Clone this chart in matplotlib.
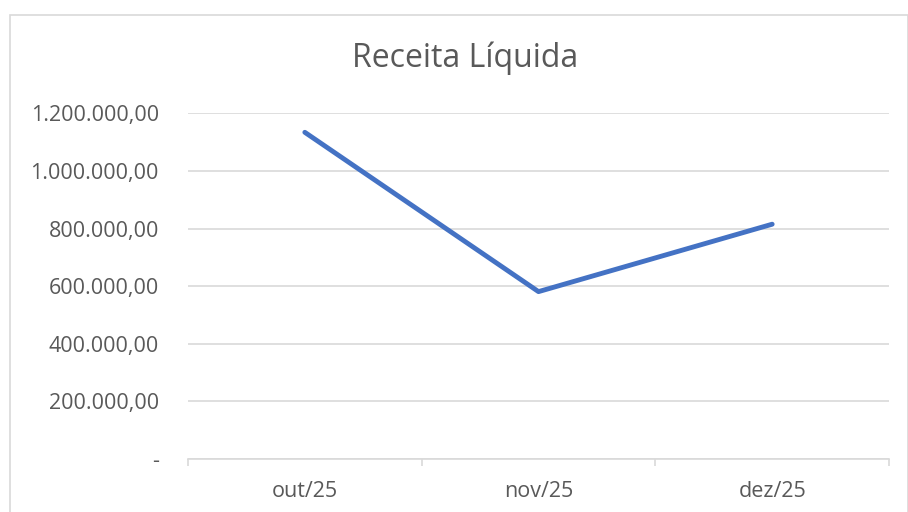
import matplotlib.pyplot as plt
from matplotlib.ticker import FuncFormatter, FixedLocator
from matplotlib.patches import Rectangle

# dados
meses = ['out/25', 'nov/25', 'dez/25']
receita = [1134000, 581000, 815000]
yticks = [0, 200000, 400000, 600000, 800000, 1000000, 1200000]

plt.rcParams['font.family'] = ['Open Sans', 'DejaVu Sans']

def fmt_br(v, pos):
    if v == 0:
        return '-'
    s = '{:,.2f}'.format(v)
    return s.replace(',', 'X').replace('.', ',').replace('X', '.')

fig = plt.figure(figsize=(9.08, 5.12), dpi=100)
fig.patches.append(Rectangle((10/908, -0.1), 898/908, 1 - 15/512 + 0.1,
                             transform=fig.transFigure, fill=False,
                             edgecolor='#d9d9d9', linewidth=1.2))

ax = fig.add_axes([188/908, 1 - 459/512, 701/908, (459 - 113.3)/512])
x = list(range(len(meses)))
ax.plot(x, receita, color='#4472C4', linewidth=3.5, solid_capstyle='round',
        solid_joinstyle='round', zorder=3)

ax.set_xlim(-0.5, len(meses) - 0.5)
ax.set_ylim(0, 1200000)
ax.set_yticks(yticks)
ax.yaxis.set_major_formatter(FuncFormatter(fmt_br))
ax.set_xticks(x)
ax.set_xticklabels(meses)
ax.xaxis.set_minor_locator(FixedLocator([-0.5, 0.5, 1.5, 2.5]))

ax.grid(axis='y', color='#d9d9d9', linewidth=1.2)
ax.set_axisbelow(True)
for s in ['top', 'right', 'left']:
    ax.spines[s].set_visible(False)
ax.spines['bottom'].set_color('#d9d9d9')
ax.spines['bottom'].set_linewidth(1.2)

ax.tick_params(axis='y', length=0, pad=21, labelsize=15.5, labelcolor='#595959')
ax.tick_params(axis='x', which='major', length=0, pad=16, labelsize=15.5,
               labelcolor='#595959')
ax.tick_params(axis='x', which='minor', length=5, width=1.2, color='#d9d9d9')

fig.text(465/908, 1 - 58/512, 'Receita Líquida', ha='center', va='center',
         fontsize=23, color='#595959')

fig.savefig('out.png', dpi=100)
